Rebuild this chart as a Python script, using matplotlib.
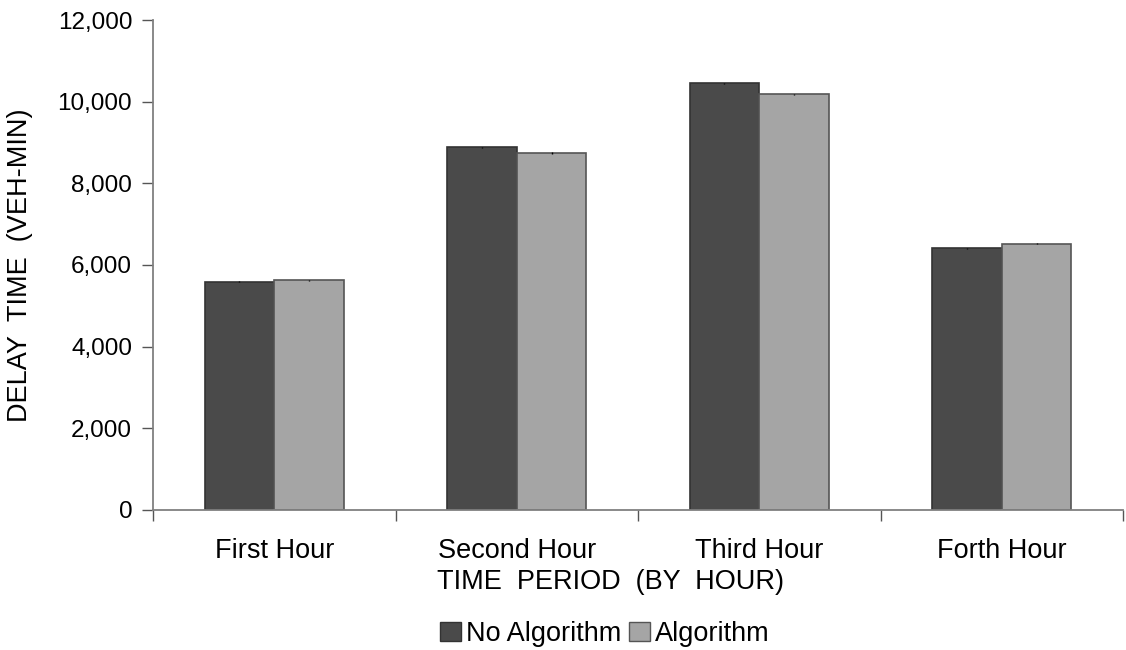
import matplotlib
matplotlib.use("Agg")
import matplotlib.pyplot as plt
import numpy as np
from matplotlib.ticker import FuncFormatter, FixedLocator
from matplotlib.patches import Patch

plt.rcParams['font.family'] = ['Liberation Sans', 'DejaVu Sans']

categories = ["First Hour", "Second Hour", "Third Hour", "Forth Hour"]
no_algorithm = [5590, 8880, 10450, 6410]
algorithm = [5625, 8745, 10180, 6520]
err_no = [15, 15, 15, 15]
err_alg = [15, 15, 15, 15]
series_names = ["No Algorithm", "Algorithm"]
yticks = [0, 2000, 4000, 6000, 8000, 10000, 12000]

dark = "#4a4a4a"
light = "#a5a5a5"
edge = "#333333"
FS_Y = 17.5
FS = 19.5

fig = plt.figure(figsize=(11.26, 6.5), dpi=100)
ax = fig.add_axes([153/1126, 1 - 510/650, (1123-153)/1126, (510-20)/650])

x = np.arange(len(categories))
w = 0.287
ax.bar(x - w/2, no_algorithm, w, color=dark, edgecolor=edge, linewidth=1.2,
       yerr=err_no, error_kw=dict(ecolor='black', elinewidth=1, capsize=0))
ax.bar(x + w/2, algorithm, w, color=light, edgecolor="#555555", linewidth=1.2,
       yerr=err_alg, error_kw=dict(ecolor='black', elinewidth=1, capsize=0))

ax.set_xlim(-0.5, len(categories) - 0.5)
ax.set_ylim(0, 12000)
ax.set_yticks(yticks)
ax.yaxis.set_major_formatter(FuncFormatter(lambda v, p: f"{int(v):,}"))
ax.tick_params(axis='y', direction='out', length=8, width=1, color='#555555',
               labelsize=FS_Y, pad=7)

ax.xaxis.set_major_locator(FixedLocator(np.arange(len(categories) + 1) - 0.5))
ax.set_xticklabels([""] * (len(categories) + 1))
ax.set_xticks(x, minor=True)
ax.set_xticklabels(categories, minor=True)
ax.tick_params(axis='x', which='major', direction='out', length=8, width=1, color='#555555')
ax.tick_params(axis='x', which='minor', length=0, labelsize=FS, pad=20)

for s in ['top', 'right']:
    ax.spines[s].set_visible(False)
for s in ['left', 'bottom']:
    ax.spines[s].set_color('#808080')
    ax.spines[s].set_linewidth(1.3)

fig.text(20/1126, 1 - 265/650, "DELAY  TIME  (VEH-MIN)", rotation=90,
         ha='center', va='center', fontsize=FS)
fig.text(610/1126, 1 - 582/650, "TIME  PERIOD  (BY  HOUR)", ha='center', va='center', fontsize=FS)

handles = [Patch(facecolor=dark, edgecolor=edge), Patch(facecolor=light, edgecolor='#555555')]
fig.legend(handles, series_names, loc='center', bbox_to_anchor=(605/1126, 1 - 634/650),
           ncol=2, frameon=False, fontsize=FS, handlelength=0.75, handleheight=0.75,
           handletextpad=0.2, columnspacing=0.3)

fig.savefig("out.png", dpi=100)
